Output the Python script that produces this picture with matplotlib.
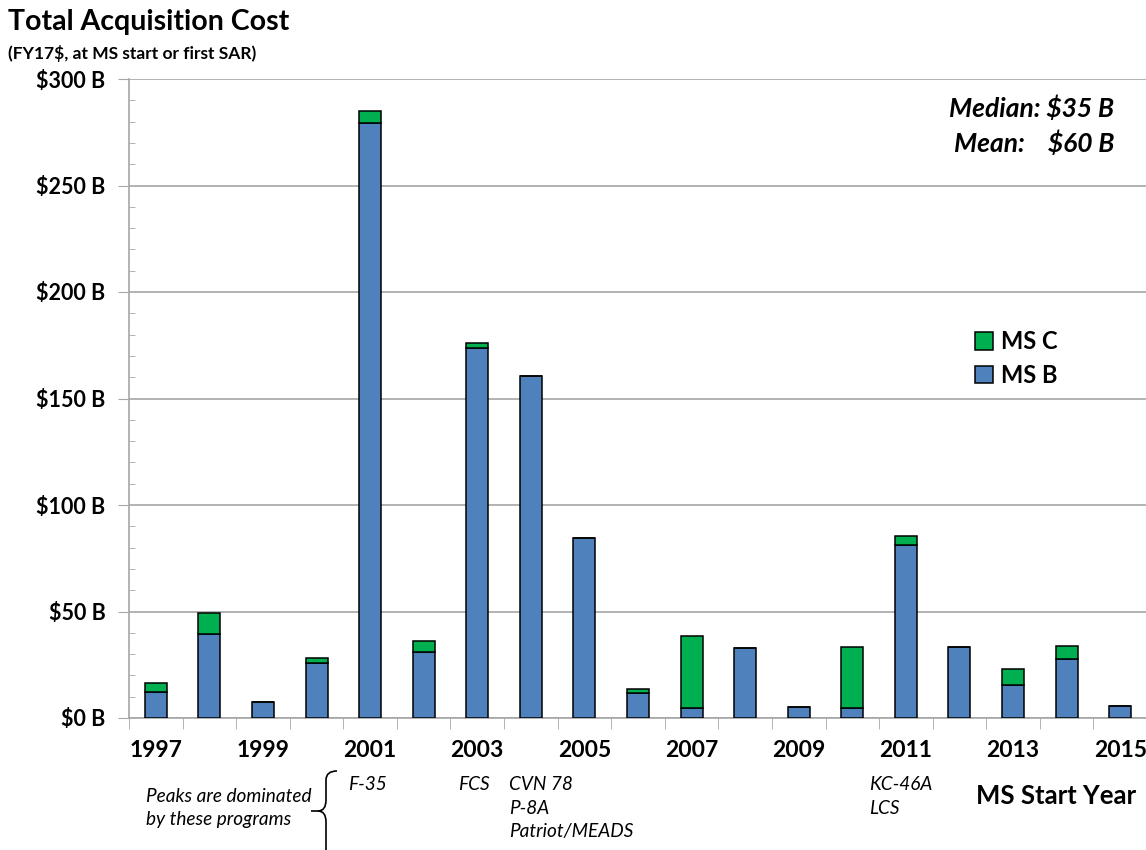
import matplotlib
matplotlib.use('Agg')
import matplotlib.pyplot as plt
from matplotlib.path import Path
from matplotlib.patches import PathPatch
import numpy as np

plt.rcParams['font.family'] = ['Lato', 'DejaVu Sans']

years = list(range(1997, 2016))
ms_b = [12.1, 39.3, 7.7, 25.6, 279.2, 31.1, 173.6, 160.6, 84.5, 11.6,
        4.5, 32.7, 5.3, 4.8, 81.2, 33.5, 15.5, 27.6, 5.8]
ms_c = [4.3, 9.9, 0, 2.4, 6.0, 4.9, 2.5, 0, 0, 2.2,
        34.0, 0, 0, 28.4, 4.2, 0, 7.4, 6.3, 0]

c_b = '#4F81BD'
c_c = '#00B050'
c_grid = '#A6A6A6'

W, H = 1146, 850
fig = plt.figure(figsize=(W / 100, H / 100), dpi=100)
ax = fig.add_axes([129 / W, 1 - 718 / H, (1147 - 129) / W, (718 - 79) / H])

x = np.arange(len(years))
ax.bar(x, ms_b, width=0.41, color=c_b, edgecolor='black', lw=1.1, label='MS B', zorder=3)
ax.bar(x, ms_c, width=0.41, bottom=ms_b, color=c_c, edgecolor='black', lw=1.1,
       label='MS C', zorder=3)

ax.set_xlim(-0.5, len(years) - 0.5)
ax.set_ylim(0, 300)

# y axis: majors outside with grid, minors inside
ax.set_yticks(np.arange(0, 301, 50))
ax.set_yticklabels([f'${v} B' for v in range(0, 301, 50)], fontsize=15.5, fontweight='bold')
ax.set_yticks(np.arange(0, 301, 10), minor=True)
ax.tick_params(axis='y', which='major', length=8, color=c_grid, pad=9)
ax.tick_params(axis='y', which='minor', direction='in', length=4, color=c_grid)
ax.grid(axis='y', which='major', color=c_grid, lw=1.2, zorder=0)

# x axis: labels at centres, tick marks between categories
ax.set_xticks(x)
ax.set_xticklabels([str(y) if i % 2 == 0 else '' for i, y in enumerate(years)],
                   fontsize=16.5, fontweight='bold')
ax.set_xticks(np.arange(-0.5, len(years)), minor=True)
ax.tick_params(axis='x', which='major', length=0, pad=16)
ax.tick_params(axis='x', which='minor', length=8, color=c_grid)

for s in ['top', 'right']:
    ax.spines[s].set_visible(False)
for s in ['left', 'bottom']:
    ax.spines[s].set_color(c_grid)
    ax.spines[s].set_linewidth(1.2)

handles, labels = ax.get_legend_handles_labels()
ax.legend(handles[::-1], labels[::-1], loc='upper left', bbox_to_anchor=(0.81, 0.64),
          frameon=False, prop={'weight': 'bold', 'size': 17},
          handlelength=0.75, handleheight=0.75, handletextpad=0.35, labelspacing=0.45)

ax.text(0.968, 0.955, 'Median: $35 B', transform=ax.transAxes, ha='right', va='center',
        fontsize=19, fontweight='bold', style='italic')
ax.text(0.968, 0.9, 'Mean:    $60 B', transform=ax.transAxes, ha='right', va='center',
        fontsize=19, fontweight='bold', style='italic')

# titles
fig.text(8 / W, 1 - 22 / H, 'Total Acquisition Cost', fontsize=20.5, fontweight='bold',
         va='center', ha='left')
fig.text(8 / W, 1 - 53 / H, '(FY17$, at MS start or first SAR)', fontsize=12.5,
         fontweight='bold', va='center', ha='left')
fig.text(1056 / W, 1 - 796 / H, 'MS Start Year', fontsize=18.5, fontweight='bold',
         va='center', ha='center')

# program annotations
notes = [
    (348, 784, 'F-35'), (458, 784, 'FCS'), (509, 784, 'CVN 78'), (509, 808, 'P-8A'),
    (509, 832, 'Patriot/MEADS'), (869, 784, 'KC-46A'), (869, 808, 'LCS'),
    (146, 797, 'Peaks are dominated'), (146, 820, 'by these programs'),
]
for px, py, t in notes:
    fig.text(px / W, 1 - py / H, t, fontsize=13.7, style='italic', va='center', ha='left')

# brace
pts = [(337, 771), (326, 771), (326, 780), (326, 800), (326, 811), (318, 811), (311, 811),
       (318, 811), (326, 811), (326, 822), (326, 852)]
codes = [Path.MOVETO, Path.CURVE3, Path.CURVE3, Path.LINETO, Path.CURVE3, Path.CURVE3,
         Path.LINETO, Path.MOVETO, Path.CURVE3, Path.CURVE3, Path.LINETO]
verts = [(px / W, 1 - py / H) for px, py in pts]
fig.patches.append(PathPatch(Path(verts, codes), transform=fig.transFigure, fill=False,
                             lw=1.2, color='black'))

fig.savefig('out.png', dpi=100)
